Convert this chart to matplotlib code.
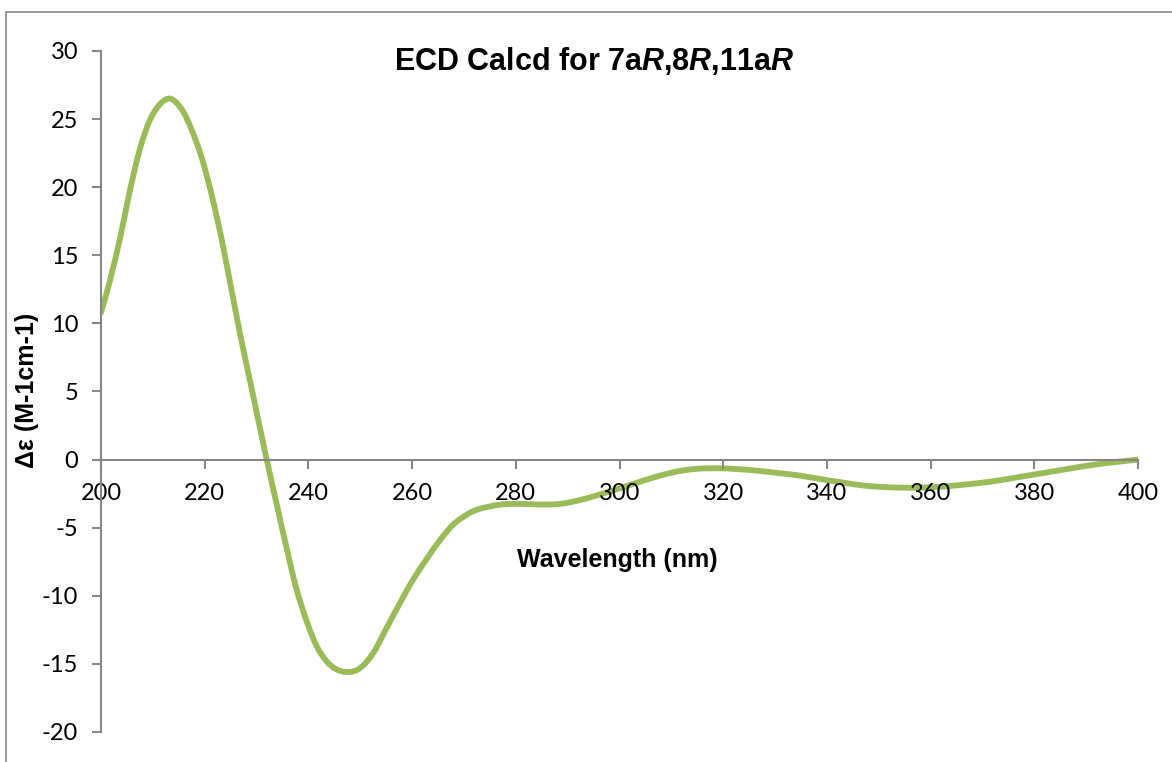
import matplotlib
matplotlib.use('Agg')
import numpy as np
import matplotlib.pyplot as plt
from matplotlib.patches import Rectangle, PathPatch
from matplotlib.path import Path

# calculated ECD curve
wavelength = [200, 201.7, 203.7, 205.6, 207.5, 209.4, 211.4, 213.4, 215.6, 217.5,
              219.4, 221.3, 223.2, 225.1, 227.0, 228.9, 231.5, 233.9, 235.8,
              237.7, 239.7, 241.6, 243.5, 245.4, 247.7, 250.0, 252.5, 255.1, 257.7,
              260.2, 262.8, 265.4, 268.0, 270.9, 273.2, 277.1, 280.9, 284.7, 288.6,
              292.4, 296.3, 300.1, 304.0, 307.8, 311.7, 315.5, 319.3, 323.2, 327.0,
              330.9, 334.7, 338.6, 342.5, 346.3, 350.2, 354.0, 357.9, 361.7, 365.6,
              369.4, 373.3, 377.1, 381.0, 384.8, 388.7, 392.6, 396.4, 400]
delta_eps = [10.8, 13.1, 16.3, 19.8, 22.8, 24.9, 26.1, 26.5, 25.7, 24.2,
             22.2, 19.5, 16.3, 12.6, 8.9, 5.5, 0.8, -3.3, -6.5,
             -9.5, -11.9, -13.7, -14.8, -15.4, -15.6, -15.3, -14.2, -12.35, -10.5,
             -8.8, -7.3, -5.9, -4.75, -3.96, -3.6, -3.3, -3.25, -3.3, -3.25,
             -2.97, -2.55, -2.1, -1.62, -1.18, -0.83, -0.66, -0.64, -0.71, -0.83,
             -1.0, -1.17, -1.42, -1.65, -1.87, -2.0, -2.06, -2.06, -2.0, -1.87,
             -1.72, -1.52, -1.28, -1.03, -0.79, -0.54, -0.32, -0.15, 0.0]

x_ticks = list(range(200, 401, 20))
y_ticks = list(range(-20, 31, 5))

GRAY = '#868686'


def smooth_path(xs, ys):
    # Catmull-Rom style bezier path through the points (like a "smoothed line")
    pts = np.column_stack([xs, ys])
    verts = [pts[0]]
    codes = [Path.MOVETO]
    n = len(pts)
    for i in range(n - 1):
        p0 = pts[max(i - 1, 0)]
        p1 = pts[i]
        p2 = pts[i + 1]
        p3 = pts[min(i + 2, n - 1)]
        c1 = p1 + (p2 - p0) / 6
        c2 = p2 - (p3 - p1) / 6
        verts += [c1, c2, p2]
        codes += [Path.CURVE4] * 3
    return Path(verts, codes)


plt.rcParams['axes.unicode_minus'] = False
plt.rcParams['mathtext.fontset'] = 'custom'
plt.rcParams['mathtext.it'] = 'Liberation Sans:italic:bold'
plt.rcParams['mathtext.rm'] = 'Liberation Sans:bold'

fig = plt.figure(figsize=(11.72, 7.62), dpi=100)
ax = fig.add_axes([101 / 1172, 1 - 732 / 762, 1037 / 1172, 681 / 762])

ax.add_patch(PathPatch(smooth_path(wavelength, delta_eps), facecolor='none',
                       edgecolor='#9BBB59', lw=4.2, joinstyle='round',
                       capstyle='round'))

ax.set_xlim(200, 400)
ax.set_ylim(-20, 30)
ax.set_xticks(x_ticks)
ax.set_yticks(y_ticks)

for side in ['top', 'right']:
    ax.spines[side].set_visible(False)
ax.spines['bottom'].set_position(('data', 0))
for side in ['left', 'bottom']:
    ax.spines[side].set_color(GRAY)
    ax.spines[side].set_linewidth(1.5)

ax.tick_params(axis='both', direction='out', color=GRAY, width=1.5, length=6.5,
               labelsize=17, labelcolor='black')
ax.tick_params(axis='x', pad=10)
ax.tick_params(axis='y', pad=10)
for lbl in ax.get_xticklabels() + ax.get_yticklabels():
    lbl.set_fontfamily('Lato')

fig.text(0.507, 1 - 70 / 762,
         r'ECD Calcd for 7a$\mathit{R}$,$\mathit{8R}$,11a$\mathit{R}$',
         ha='center', va='baseline', fontsize=22, fontweight='bold',
         family='Liberation Sans')

fig.text(617.5 / 1172, 1 - 567 / 762, 'Wavelength (nm)', ha='center', va='baseline',
         fontsize=18, fontweight='bold', family='Liberation Sans')
fig.text(27 / 1172, 1 - 390 / 762, 'Δε (M-1cm-1)', ha='center', va='center',
         rotation=90, fontsize=18, fontweight='bold', family='Liberation Sans')

# chart area border
fig.patches.append(Rectangle((6 / 1172, -0.1), 2, 1.1 - 12 / 762,
                             transform=fig.transFigure, fill=False,
                             edgecolor=GRAY, lw=1.2))

fig.savefig('out.png', dpi=100)
